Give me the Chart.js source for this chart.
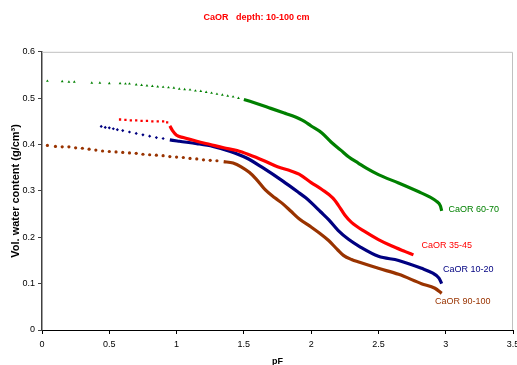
<!DOCTYPE html>
<html>
<head>
<meta charset="utf-8">
<script src="https://cdn.jsdelivr.net/npm/chart.js@4"></script>
<style>
  html, body { margin: 0; padding: 0; background: #fff; }
  #wrap { width: 517px; height: 365px; }
</style>
</head>
<body>
<div id="wrap"><canvas id="retentionChart"></canvas></div>
<script>
// pF vs volumetric water content, CaOR profile
const pF6070 = [0.04, 0.15, 0.2, 0.24, 0.37, 0.43, 0.5, 0.58, 0.62, 0.65, 0.7, 0.74, 0.78, 0.82, 0.86, 0.9, 0.94, 0.98, 1.02, 1.06, 1.1, 1.14, 1.18, 1.22, 1.26, 1.3, 1.34, 1.38, 1.42, 1.46,
  1.5, 1.6, 1.7, 1.8, 1.86, 1.95, 2.0, 2.08, 2.15, 2.22, 2.28, 2.35, 2.41, 2.5, 2.65, 2.8, 2.88, 2.93, 2.96, 2.97];
const wc6070 = [0.537, 0.536, 0.535, 0.535, 0.533, 0.533, 0.532, 0.532, 0.531, 0.531, 0.529, 0.528, 0.527, 0.526, 0.525, 0.524, 0.523, 0.522, 0.52, 0.519, 0.518, 0.516, 0.515, 0.513, 0.511, 0.509, 0.507, 0.505, 0.503, 0.5,
  0.497, 0.488, 0.478, 0.468, 0.462, 0.45, 0.44, 0.425, 0.405, 0.388, 0.373, 0.36, 0.349, 0.335, 0.317, 0.298, 0.287, 0.278, 0.268, 0.257];

const pF3545 = [0.58, 0.62, 0.66, 0.7, 0.74, 0.78, 0.82, 0.86, 0.9, 0.93,
  0.95, 0.97, 1.0, 1.05, 1.15, 1.25, 1.35, 1.45, 1.54, 1.65, 1.75, 1.85, 1.91, 2.0, 2.08, 2.16, 2.2, 2.25, 2.3, 2.4, 2.5, 2.6, 2.7, 2.76];
const wc3545 = [0.454, 0.453, 0.452, 0.452, 0.451, 0.451, 0.45, 0.45, 0.45, 0.448,
  0.44, 0.43, 0.42, 0.415, 0.407, 0.4, 0.393, 0.387, 0.378, 0.365, 0.352, 0.343, 0.336, 0.318, 0.303, 0.285, 0.27, 0.248, 0.232, 0.212, 0.195, 0.181, 0.169, 0.162];

const pF1020 = [0.44, 0.47, 0.5, 0.53, 0.56, 0.6, 0.65, 0.7, 0.75, 0.8, 0.85, 0.9,
  0.95, 1.02, 1.15, 1.27, 1.4, 1.52, 1.64, 1.79, 1.9, 1.96, 2.01, 2.07, 2.13, 2.2, 2.28, 2.36, 2.5, 2.65, 2.82, 2.9, 2.95, 2.97];
const wc1020 = [0.439, 0.437, 0.436, 0.434, 0.432, 0.43, 0.427, 0.424, 0.421, 0.418, 0.415, 0.413,
  0.41, 0.407, 0.402, 0.396, 0.385, 0.371, 0.35, 0.321, 0.298, 0.285, 0.272, 0.255, 0.238, 0.215, 0.195, 0.18, 0.159, 0.15, 0.133, 0.123, 0.112, 0.1];

const pF90100 = [0.04, 0.1, 0.15, 0.2, 0.25, 0.3, 0.35, 0.4, 0.45, 0.5, 0.55, 0.6, 0.65, 0.7, 0.75, 0.8, 0.85, 0.9, 0.95, 1.0, 1.05, 1.1, 1.15, 1.2, 1.25, 1.3,
  1.35, 1.42, 1.48, 1.54, 1.59, 1.66, 1.73, 1.79, 1.85, 1.91, 2.0, 2.08, 2.13, 2.2, 2.24, 2.3, 2.36, 2.5, 2.65, 2.82, 2.92, 2.97];
const wc90100 = [0.398, 0.396, 0.395, 0.395, 0.393, 0.392, 0.39, 0.388, 0.386, 0.385, 0.384, 0.383, 0.382, 0.381, 0.379, 0.378, 0.377, 0.376, 0.374, 0.373, 0.372, 0.37, 0.369, 0.367, 0.366, 0.365,
  0.363, 0.36, 0.352, 0.34, 0.326, 0.302, 0.285, 0.272, 0.256, 0.24, 0.222, 0.205, 0.193, 0.172, 0.161, 0.152, 0.146, 0.133, 0.12, 0.1, 0.09, 0.079];

const seriesNames = ['CaOR 60-70', 'CaOR 35-45', 'CaOR 10-20', 'CaOR 90-100'];
const seriesColors = ['#008000', '#FF0000', '#000080', '#993300'];
const pointStyles = ['triangle', 'rect', 'rectRot', 'circle'];
// below this pF the measurements are sparse and show as single markers
const lineStarts = [1.5, 0.95, 0.95, 1.35];
// where each curve's name sits on the plot (pF, water content)
const labelPF = [3.02, 2.82, 2.98, 2.92];
const labelWC = [0.259, 0.182, 0.131, 0.062];

const xTicks = [0, 0.5, 1, 1.5, 2, 2.5, 3, 3.5];
const yTicks = [0, 0.1, 0.2, 0.3, 0.4, 0.5, 0.6];

const allPF = [pF6070, pF3545, pF1020, pF90100];
const allWC = [wc6070, wc3545, wc1020, wc90100];

const datasets = seriesNames.map((name, i) => {
    const start = lineStarts[i];
    const color = seriesColors[i];
    return {
        label: name,
        data: allPF[i].map((x, j) => ({ x: x, y: allWC[i][j] })),
        showLine: true,
        borderColor: color,
        backgroundColor: color,
        borderWidth: 3.2,
        cubicInterpolationMode: 'monotone',
        pointStyle: pointStyles[i],
        pointBorderWidth: 0,
        pointRadius: ctx => (ctx.raw && ctx.raw.x < start ? 1.6 : 0),
        pointHoverRadius: 0,
        segment: {
            borderColor: ctx => (ctx.p0.parsed.x < start ? 'rgba(0,0,0,0)' : color)
        }
    };
});

const frame = {
    id: 'frame',
    beforeDatasetsDraw(chart) {
        const a = chart.chartArea;
        const c = chart.ctx;
        c.save();
        c.strokeStyle = '#c0c0c0';
        c.lineWidth = 1;
        c.beginPath();
        c.moveTo(a.left, a.top + 0.5);
        c.lineTo(a.right - 0.5, a.top + 0.5);
        c.lineTo(a.right - 0.5, a.bottom);
        c.stroke();
        c.restore();
    }
};

const curveLabels = {
    id: 'curveLabels',
    afterDatasetsDraw(chart) {
        const c = chart.ctx;
        const xs = chart.scales.x, ys = chart.scales.y;
        c.save();
        c.font = '9px "Liberation Sans", Arial, sans-serif';
        c.textAlign = 'left';
        c.textBaseline = 'middle';
        seriesNames.forEach((name, i) => {
            c.fillStyle = seriesColors[i];
            c.fillText(name, xs.getPixelForValue(labelPF[i]), ys.getPixelForValue(labelWC[i]));
        });
        c.restore();
    }
};

const tickFont = { family: '"Liberation Sans", Arial, sans-serif', size: 9 };
const boldFont = { family: '"Liberation Sans", Arial, sans-serif', size: 9, weight: 'bold' };

new Chart(document.getElementById('retentionChart'), {
    type: 'scatter',
    data: { datasets: datasets },
    options: {
        responsive: true,
        maintainAspectRatio: false,
        animation: false,
        layout: { padding: { left: 0, right: 4, top: 0, bottom: 0 } },
        plugins: {
            legend: { display: false },
            tooltip: { enabled: false },
            title: {
                display: true,
                text: 'CaOR   depth: 10-100 cm',
                color: '#FF0000',
                font: boldFont,
                padding: { top: 12, bottom: 29 }
            }
        },
        scales: {
            x: {
                type: 'linear',
                min: 0,
                max: 3.5,
                afterBuildTicks: s => { s.ticks = xTicks.map(v => ({ value: v })); },
                afterFit: s => { s.height = 35; s.paddingLeft = 0; s.paddingRight = 0; },
                ticks: { font: tickFont, color: '#000', padding: 5, maxRotation: 0, autoSkip: false, callback: v => String(v) },
                grid: { drawOnChartArea: false, tickLength: 4, color: '#000' },
                border: { color: '#000', width: 1 },
                title: { display: true, text: 'pF', font: boldFont, color: '#000', padding: { top: 0, bottom: -2 } }
            },
            y: {
                type: 'linear',
                min: 0,
                max: 0.6,
                afterBuildTicks: s => { s.ticks = yTicks.map(v => ({ value: v })); },
                afterFit: s => { s.width = 42; s.paddingTop = 0; s.paddingBottom = 0; },
                ticks: { font: tickFont, color: '#000', padding: 3, autoSkip: false, callback: v => String(v) },
                grid: { drawOnChartArea: false, tickLength: 4, color: '#404040' },
                border: { color: '#404040', width: 1.5 },
                title: { display: true, text: 'Vol. water content (g/cm\u00B3)', font: { family: '"Liberation Sans", Arial, sans-serif', size: 11, weight: 'bold' }, color: '#000', padding: { top: 9, bottom: 0 } }
            }
        }
    },
    plugins: [frame, curveLabels]
});
</script>
</body>
</html>
